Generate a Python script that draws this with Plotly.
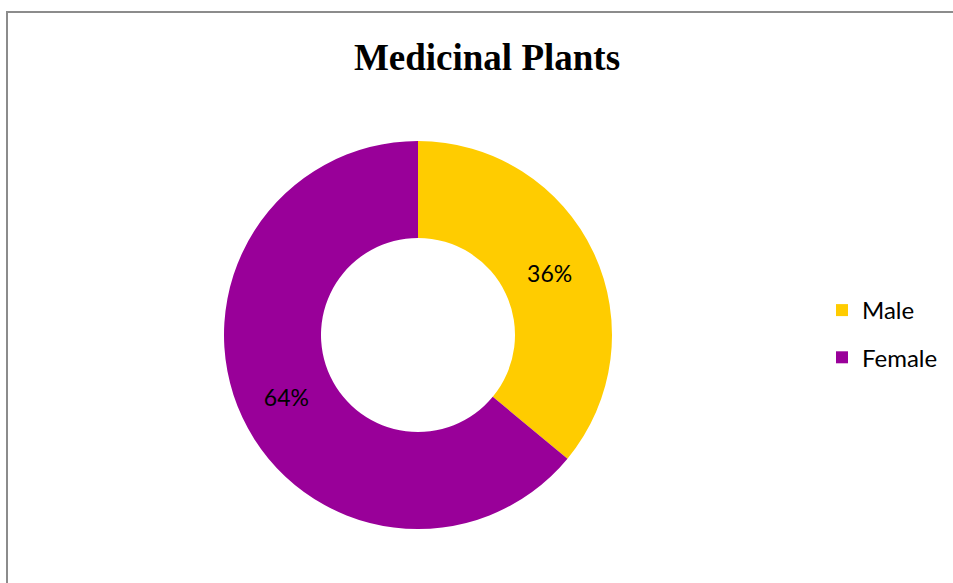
import plotly.graph_objects as go

# Data
labels = ["Male", "Female"]
values = [36, 64]
colors = ["#FFCC00", "#990099"]
title_text = "Medicinal Plants"

W, H = 953, 583
cx, cy, R = 418, 335, 194
legend_font = dict(family="Lato, Noto Sans, sans-serif", size=24, color="#000000")

fig = go.Figure(go.Pie(
    labels=labels,
    values=values,
    hole=0.5,
    sort=False,
    direction="clockwise",
    rotation=0,
    marker=dict(colors=colors, line=dict(width=0)),
    texttemplate="%{percent:.0%}",
    textposition="inside",
    insidetextorientation="horizontal",
    textfont=dict(family="Lato, Noto Sans, sans-serif", size=23, color="#000000"),
    domain=dict(x=[(cx - R) / W, (cx + R) / W],
                y=[1 - (cy + R) / H, 1 - (cy - R) / H]),
    hoverinfo="label+percent",
    showlegend=False,
))

# legend entries (one per slice) so each can be spaced like the original
for lab, col in zip(labels, colors):
    fig.add_trace(go.Scatter(
        x=[None], y=[None], mode="markers", name=lab, legendgroup=lab,
        marker=dict(symbol="square", size=12, color=col),
        showlegend=True, hoverinfo="skip",
    ))

fig.update_layout(
    width=W, height=H,
    margin=dict(l=0, r=0, t=0, b=0),
    paper_bgcolor="white",
    plot_bgcolor="white",
    xaxis=dict(visible=False),
    yaxis=dict(visible=False),
    title=dict(text="<b>" + title_text + "</b>",
               x=487 / W, y=1 - 57 / H, xanchor="center", yanchor="middle",
               font=dict(family="Liberation Serif, Times New Roman, serif", size=37, color="#000000")),
    showlegend=True,
    legend=dict(x=822 / W, y=1 - 334 / H, xanchor="left", yanchor="middle",
                traceorder="grouped", tracegroupgap=13,
                font=legend_font,
                bgcolor="rgba(0,0,0,0)"),
    shapes=[dict(type="rect", xref="paper", yref="paper",
                 x0=7 / W, x1=1.05, y0=-0.05, y1=1 - 12 / H,
                 line=dict(color="#8c8c8c", width=2), fillcolor="rgba(0,0,0,0)")],
)

fig.write_html("out.html", config={"displayModeBar": False},
               post_script="document.body.style.margin='0px';")
